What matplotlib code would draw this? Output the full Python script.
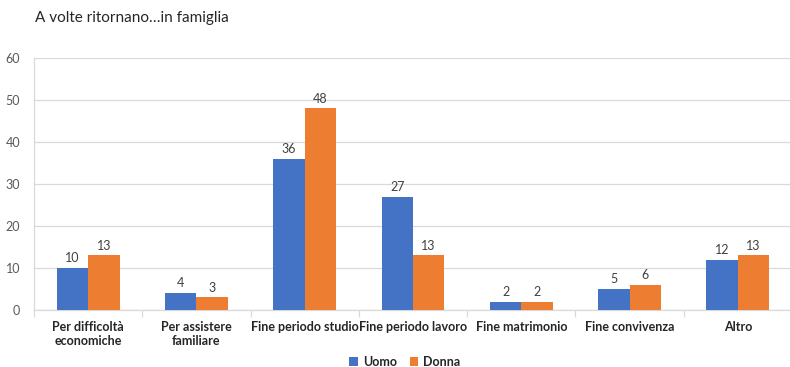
import matplotlib
matplotlib.use("Agg")
import matplotlib.pyplot as plt
import numpy as np

categories = ["Per difficoltà\neconomiche", "Per assistere\nfamiliare", "Fine periodo studio",
              "Fine periodo lavoro", "Fine matrimonio", "Fine convivenza", "Altro"]
uomo = [10, 4, 36, 27, 2, 5, 12]
donna = [13, 3, 48, 13, 2, 6, 13]
yticks = [0, 10, 20, 30, 40, 50, 60]

plt.rcParams['font.family'] = ['Lato', 'DejaVu Sans']

fig = plt.figure(figsize=(7.9, 3.67), dpi=100)
ax = fig.add_axes([34/790, 1 - 310/367, 758/790, (310 - 58)/367])

x = np.arange(len(categories))
w = 0.29
b1 = ax.bar(x - w/2, uomo, w, color="#4472C4", label="Uomo", zorder=3)
b2 = ax.bar(x + w/2, donna, w, color="#ED7D31", label="Donna", zorder=3)

for bars in (b1, b2):
    for r in bars:
        ax.text(r.get_x() + r.get_width()/2, r.get_height() + 0.9, f"{int(r.get_height())}",
                ha="center", va="bottom", fontsize=9, color="#404040")

ax.set_xlim(-0.5, len(categories) - 0.5)
ax.set_ylim(0, 60)
ax.set_yticks(yticks)
ax.tick_params(axis="y", length=0, labelsize=9, labelcolor="#595959", pad=10)
ax.yaxis.grid(True, color="#D9D9D9", linewidth=0.9, zorder=0)

ax.set_xticks(x)
ax.set_xticklabels(categories, fontsize=9, fontweight="bold", color="#262626")
ax.tick_params(axis="x", length=0, pad=8)
ax.set_xticks(np.arange(-0.5, len(categories) + 0.5, 1), minor=True)
ax.tick_params(axis="x", which="minor", length=5, color="#D9D9D9", width=0.9)

for s in ["top", "right"]:
    ax.spines[s].set_visible(False)
for s in ["left", "bottom"]:
    ax.spines[s].set_color("#D9D9D9")
    ax.spines[s].set_linewidth(0.9)

fig.text(35/790, 1 - 18/367, "A volte ritornano…in famiglia", fontsize=11,
         color="#262626", ha="left", va="center")

fig.legend(handles=[b1, b2], labels=["Uomo", "Donna"], loc="center",
           bbox_to_anchor=(405/790, 1 - 362/367), ncol=2, frameon=False,
           prop={"size": 9, "weight": "bold"}, handlelength=0.7, handleheight=0.7,
           handletextpad=0.4, columnspacing=1.0, labelcolor="#262626")

fig.savefig("out.png", dpi=100, facecolor="white")
